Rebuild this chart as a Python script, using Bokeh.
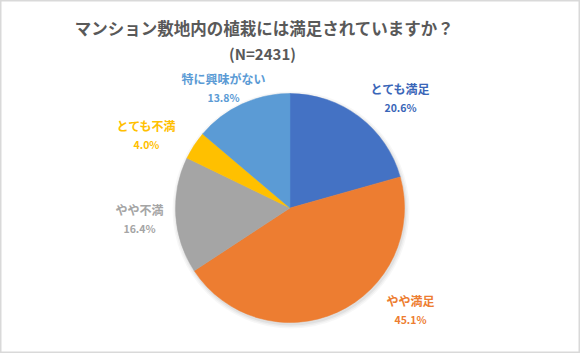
import math
from bokeh.plotting import figure
from bokeh.models import Range1d, ColumnDataSource
from bokeh.core.properties import value
from bokeh.embed import file_html
from bokeh.resources import INLINE

# ---- data ----
title_text = "マンション敷地内の植栽には満足されていますか？"
subtitle_text = "(N=2431)"
categories = ["とても満足", "やや満足", "やや不満", "とても不満", "特に興味がない"]
percents = [20.6, 45.1, 16.4, 4.0, 13.8]

# ---- style / layout ----
colors = ["#4472C4", "#ED7D31", "#A5A5A5", "#FFC000", "#5B9BD5"]
label_colors = ["#3A66B8", "#ED7D31", "#A5A5A5", "#FFC000", "#5B9BD5"]
W, H = 580, 353
cx, cy_pix, R = 289.5, 207.5, 114.5
# label anchor (pixel coords from top-left) for each slice
label_pos = [(400, 88), (410, 300), (139, 209), (146, 125), (223, 78)]

p = figure(width=W, height=H, output_backend="svg", toolbar_location=None,
           x_range=Range1d(0, W), y_range=Range1d(0, H), min_border=0)
p.axis.visible = False
p.grid.visible = False
p.outline_line_color = "#D9D9D9"
p.outline_line_width = 2
p.background_fill_color = "white"
p.border_fill_color = "white"

def Y(ypix):
    return H - ypix

total = sum(percents)
starts, ends = [], []
cum = 0.0
for v in percents:
    starts.append(math.pi / 2 - 2 * math.pi * cum / total)
    cum += v
    ends.append(math.pi / 2 - 2 * math.pi * cum / total)

# soft shadow
for i, a in enumerate([0.05, 0.04, 0.03]):
    p.circle(x=cx + 1, y=Y(cy_pix) - 2, radius=R + 1 + i * 1.5,
             fill_color="black", fill_alpha=a, line_color=None)

src = ColumnDataSource(dict(start=starts, end=ends, color=colors))
p.wedge(x=cx, y=Y(cy_pix), radius=R, start_angle="start", end_angle="end",
        direction="clock", fill_color="color", line_color="color",
        line_width=0.5, source=src)

font = value("Noto Sans CJK JP")
p.text(x=[264], y=[Y(27)], text=[title_text], text_align="center",
       text_baseline="middle", text_font=font, text_font_size="16.5px",
       text_font_style="bold", text_color="#595959")
p.text(x=[262], y=[Y(53)], text=[subtitle_text], text_align="center",
       text_baseline="middle", text_font=font, text_font_size="15px",
       text_font_style="bold", text_color="#595959")

lx = [q[0] for q in label_pos]
ly1 = [Y(q[1]) for q in label_pos]
ly2 = [Y(q[1] + 19) for q in label_pos]
pct_text = [f"{v:.1f}%" for v in percents]
p.text(x=lx, y=ly1, text=categories, text_align="center", text_baseline="middle",
       text_font=font, text_font_size="12px", text_font_style="bold",
       text_color=label_colors)
p.text(x=lx, y=ly2, text=pct_text, text_align="center", text_baseline="middle",
       text_font=font, text_font_size="10.5px", text_font_style="bold",
       text_color=label_colors)

open("out.html", "w").write(file_html(p, INLINE))
